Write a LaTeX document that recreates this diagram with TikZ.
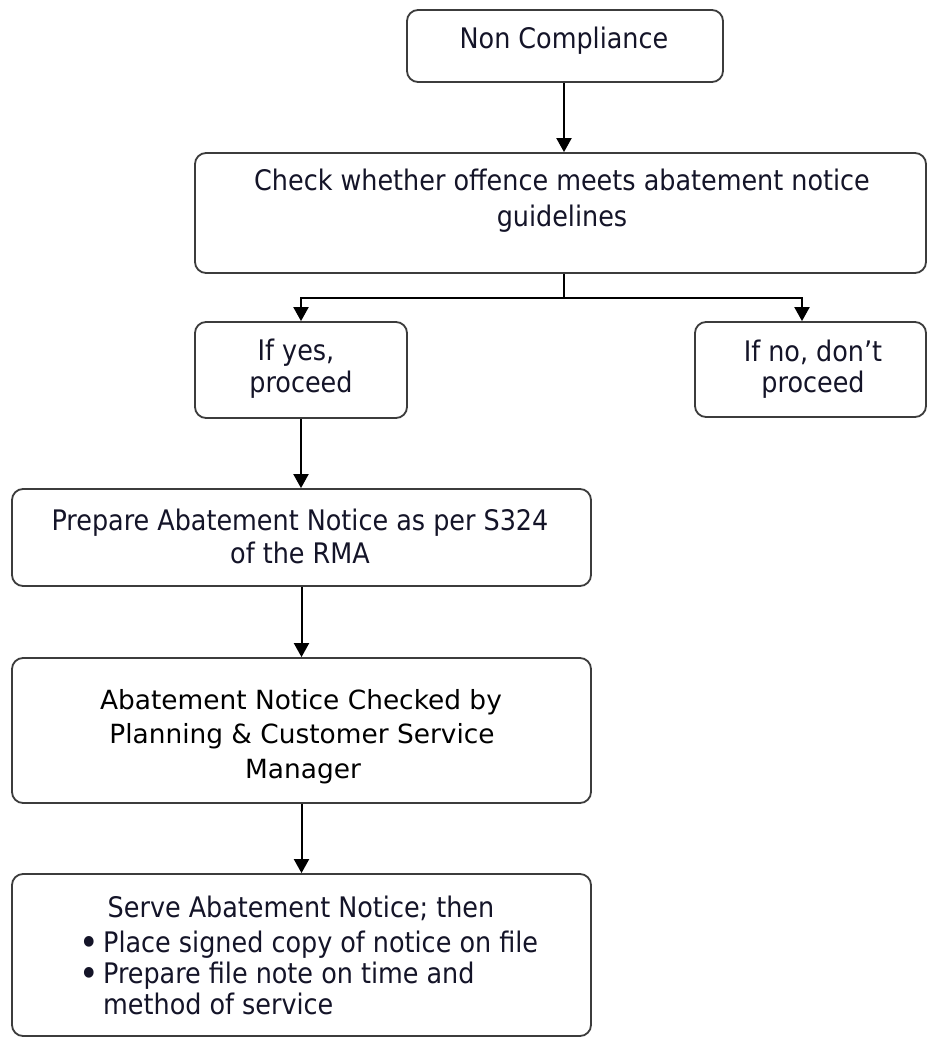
\documentclass[tikz,border=0pt]{standalone}
\usepackage{fontspec}
\setmainfont{DejaVu Sans}
\newfontfamily\tah{DejaVu Sans Condensed}
\newfontfamily\ver{DejaVu Sans}
\usetikzlibrary{arrows.meta}
\definecolor{boxline}{HTML}{3C3C3C}
\definecolor{txt}{HTML}{141428}
\newcommand{\mybul}{\llap{\raisebox{-3pt}{\scalebox{1.3}{•}}\hspace{4pt}}}
\tikzset{
  box/.style={draw=boxline, line width=1.8pt, rounded corners=11pt, inner sep=0pt},
  ttxt/.style={anchor=base, inner sep=0pt, text=txt, font=\tah\fontsize{28.3}{32}\selectfont},
  vtxt/.style={anchor=base, inner sep=0pt, text=black, font=\ver\fontsize{26.4}{32}\selectfont},
  ltxt/.style={anchor=base west, inner sep=0pt, text=txt, font=\tah\fontsize{28.3}{32}\selectfont},
  conn/.style={line width=2pt, black},
  arr/.style={conn, -{Triangle[length=14pt,width=15pt]}}
}
\begin{document}
\begin{tikzpicture}[x=1pt,y=-1pt]
\useasboundingbox[fill=white] (0,0) rectangle (927,1039);
% boxes
\node[box, minimum width=316pt, minimum height=72pt] (nc) at (565,46) {};
\node[box, minimum width=731pt, minimum height=120pt] (check) at (560.5,213) {};
\node[box, minimum width=212pt, minimum height=96pt] (yes) at (301,370) {};
\node[box, minimum width=231pt, minimum height=95pt] (no) at (810.5,369.5) {};
\node[box, minimum width=579pt, minimum height=97pt] (prep) at (301.5,537.5) {};
\node[box, minimum width=579pt, minimum height=145pt] (chk) at (301.5,730.5) {};
\node[box, minimum width=579pt, minimum height=162pt] (serve) at (301.5,955) {};
% texts
\node[ttxt] (nct) at (564,48) {Non Compliance};
\node[ttxt] (checkt1) at (562,190) {Check whether offence meets abatement notice};
\node[ttxt] (checkt2) at (562,226) {guidelines};
\node[ttxt] (yest1) at (296,360) {If yes,};
\node[ttxt] (yest2) at (301,392) {proceed};
\node[ttxt] (not1) at (813,361) {If no, don’t};
\node[ttxt] (not2) at (813,392) {proceed};
\node[ttxt] (prept1) at (300,530) {Prepare Abatement Notice as per S324};
\node[ttxt] (prept2) at (300,563) {of the RMA};
\node[vtxt] (chkt1) at (301,709) {Abatement Notice Checked by};
\node[vtxt] (chkt2) at (302,743) {Planning \& Customer Service};
\node[vtxt] (chkt3) at (303,778) {Manager};
\node[ttxt] (servet1) at (301,917) {Serve Abatement Notice; then};
\node[ltxt] (servet2) at (103,952) {\mybul Place signed copy of notice on file};
\node[ltxt] (servet3) at (103,983) {\mybul Prepare file note on time and};
\node[ltxt] (servet4) at (103,1014) {method of service};
% connectors
\coordinate (j) at (564,298);
\draw[arr] (nc.south -| j) -- (j |- check.north);
\draw[conn] (j |- check.south) -- (j);
\draw[arr] (j) -| (yes.north);
\draw[arr] (j) -| ([xshift=-8.5pt]no.north);
\draw[arr] (yes.south) -- (yes.south |- prep.north);
\draw[arr] (prep.south) -- (chk.north);
\draw[arr] (chk.south) -- (serve.north);
\end{tikzpicture}
\end{document}
